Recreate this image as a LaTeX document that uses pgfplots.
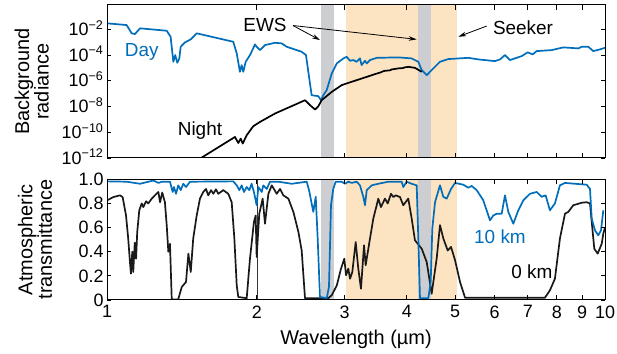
\documentclass[border=0pt]{standalone}
\usepackage{fontspec}
\setmainfont{Liberation Sans}
\usepackage{pgfplots}
\pgfplotsset{compat=1.18}
\usetikzlibrary{arrows.meta}
\definecolor{dayblue}{RGB}{0,110,186}
\definecolor{seeker}{RGB}{252,227,193}
\definecolor{ews}{RGB}{205,206,209}
\begin{document}
\begin{tikzpicture}
\path[use as bounding box] (0bp,0bp) rectangle (617bp,354bp);
% ---------------- top panel ----------------
\begin{axis}[
  scale only axis, width=498bp, height=153bp,
  at={(107bp,196bp)}, anchor=south west,
  xmode=log, ymode=log, xmin=1, xmax=10, ymin=1e-12, ymax=0.78,
  axis line style={line width=1bp},
  tick style={line width=0.8bp, black},
  major tick length=4.5bp, tick align=inside,
  xtick={1,2,3,4,5,6,7,8,9,10}, minor tick num=0,
  tick label style={font=\fontsize{18}{20}\selectfont},
  axis on top,
  ytick={1e-12,1e-10,1e-8,1e-6,1e-4,1e-2},
  yticklabels={10\smash{\textsuperscript{−12}},10\smash{\textsuperscript{−10}},10\smash{\textsuperscript{−8}},10\smash{\textsuperscript{−6}},10\smash{\textsuperscript{−4}},10\smash{\textsuperscript{−2}}},
  xticklabels={},
  ylabel={Background\\radiance},
  ylabel style={align=center, font=\fontsize{20}{18.5}\selectfont, at={(axis description cs:-0.1512,0.5)}, anchor=center},
]
\addplot[draw=none, fill=seeker, forget plot] coordinates {(3.02,1e-13) (3.02,10) (5.05,10) (5.05,1e-13)} -- cycle;
\addplot[draw=none, fill=ews, forget plot] coordinates {(2.69,1e-13) (2.69,10) (2.856,10) (2.856,1e-13)} -- cycle;
\addplot[draw=none, fill=ews, forget plot] coordinates {(4.21,1e-13) (4.21,10) (4.47,10) (4.47,1e-13)} -- cycle;
% Day
\addplot[line width=1.7bp, line join=round, mark=none, dayblue] coordinates {
(1.00,2.93e-2) (1.095,2.16e-2) (1.121,4.88e-3) (1.138,4.31e-3) (1.165,1.20e-2)
(1.318,7.78e-3) (1.342,2.65e-3) (1.359,3.0e-5) (1.371,1.0e-4) (1.384,2.5e-5)
(1.397,5.5e-5) (1.406,4.4e-4) (1.434,9.7e-4) (1.473,1.66e-3) (1.514,4.9e-3)
(1.793,1.08e-3) (1.822,1.35e-4) (1.849,5.0e-6) (1.864,1.66e-5) (1.878,5.0e-6)
(1.899,3.0e-5) (1.937,1.0e-4) (1.983,6.8e-4) (1.998,4.4e-4) (2.029,2.44e-4)
(2.076,6.0e-4) (2.175,9.0e-4) (2.243,8.1e-4) (2.296,4.4e-4) (2.460,1.8e-4)
(2.509,1.0e-4) (2.576,7.6e-8) (2.657,6.4e-8) (2.690,3.1e-8) (2.719,7.6e-8)
(2.762,1.9e-7) (2.827,3.7e-6) (2.893,2.25e-5) (2.983,5.5e-5) (3.030,7.3e-5)
(3.076,3.6e-5) (3.123,4.1e-5) (3.172,3.0e-5) (3.221,5.5e-5) (3.246,1.66e-5)
(3.297,3.6e-5) (3.323,2.25e-5) (3.374,4.1e-5) (3.480,6.1e-5) (3.846,6.6e-5)
(4.091,5.5e-5) (4.218,3.0e-5) (4.285,6.8e-6) (4.385,2.76e-6) (4.487,6.8e-6)
(4.663,3.0e-5) (4.845,4.9e-5) (5.316,6.1e-5) (5.568,4.6e-5) (6.013,3.4e-5)
(6.154,4.6e-5) (6.298,1.0e-4) (6.445,4.1e-5) (6.803,8.3e-5) (6.994,1.62e-4)
(7.157,1.13e-4) (7.292,2.04e-4) (7.816,2.44e-4) (8.247,3.96e-4) (8.840,3.3e-4)
(8.981,4.4e-4) (9.258,4.4e-4) (9.474,2.04e-4) (9.772,2.77e-4) (10.0,3.7e-4)
};
% Night
\addplot[line width=1.7bp, line join=round, mark=none, black] coordinates {
(1.537,8.9e-13) (1.807,4.3e-11) (1.835,1.47e-11) (1.856,3.2e-11) (1.873,1.32e-11)
(1.908,5.9e-11) (1.967,2.94e-10) (2.029,6.4e-10) (2.175,2.87e-9) (2.498,3.1e-8)
(2.557,1.27e-8) (2.617,5.9e-9) (2.657,1.06e-8) (2.698,3.1e-8) (2.827,1.38e-7)
(2.960,4.6e-7) (3.052,6.9e-7) (3.172,1.12e-6) (3.297,1.83e-6) (3.453,3.3e-6)
(3.55,4.6e-6) (3.58,5.4e-6) (3.616,6.0e-6) (3.70,6.5e-6) (3.73,7.6e-6)
(3.846,9.2e-6) (3.93,9.8e-6) (3.96,1.1e-5) (4.027,1.22e-5) (4.153,1.02e-5) (4.285,5.0e-6)
};
\draw[-{Stealth[length=8bp,width=4.5bp]}, line width=0.8bp] (axis cs:2.363,1.98e-2) -- (axis cs:2.677,1.47e-3);
\draw[-{Stealth[length=8bp,width=4.5bp]}, line width=0.8bp] (axis cs:2.363,1.98e-2) -- (axis cs:4.187,1.66e-3);
\draw[-{Stealth[length=8bp,width=4.5bp]}, line width=0.8bp] (axis cs:5.788,1.81e-2) -- (axis cs:5.075,2.65e-3);
\node[font=\fontsize{19}{21}\selectfont, inner sep=0pt] at (axis cs:2.076,2.16e-2) {EWS};
\node[font=\fontsize{19}{21}\selectfont, inner sep=0pt] at (axis cs:6.845,1.38e-2) {Seeker};
\node[font=\fontsize{19}{21}\selectfont, inner sep=0pt, text=dayblue] at (axis cs:1.174,1.87e-4) {Day};
\node[font=\fontsize{19}{21}\selectfont, inner sep=0pt] at (axis cs:1.537,1.31e-10) {Night};
\end{axis}
% ---------------- bottom panel ----------------
\begin{axis}[
  scale only axis, width=498bp, height=120.7bp,
  at={(107bp,54bp)}, anchor=south west,
  xmode=log, xmin=1, xmax=10, ymin=0, ymax=1,
  axis line style={line width=1bp},
  tick style={line width=0.8bp, black},
  major tick length=4.5bp, tick align=inside,
  xtick={1,2,3,4,5,6,7,8,9,10}, minor tick num=0,
  tick label style={font=\fontsize{18}{20}\selectfont},
  axis on top,
  ytick={0,0.2,0.4,0.6,0.8,1},
  yticklabels={0,0.2,0.4,0.6,0.8,1.0},
  xticklabels={1,2,3,4,5,6,7,8,9,10},
  xticklabel style={yshift=-2bp},
  ylabel={Atmospheric\\transmittance},
  ylabel style={align=center, font=\fontsize{20}{18.5}\selectfont, at={(axis description cs:-0.1446,0.5)}, anchor=center},
  xlabel={Wavelength (µm)},
  xlabel style={font=\fontsize{20}{22}\selectfont, at={(axis description cs:0.5,-0.323)}, anchor=center},
]
\addplot[draw=none, fill=seeker, forget plot] coordinates {(3.02,-0.1) (3.02,1.1) (5.05,1.1) (5.05,-0.1)} -- cycle;
\addplot[draw=none, fill=ews, forget plot] coordinates {(2.69,-0.1) (2.69,1.1) (2.856,1.1) (2.856,-0.1)} -- cycle;
\addplot[draw=none, fill=ews, forget plot] coordinates {(4.21,-0.1) (4.21,1.1) (4.47,1.1) (4.47,-0.1)} -- cycle;
\addplot[forget plot, line width=0.7bp, black!80] coordinates {(2,0) (2,1)};
% 0 km
\addplot[line width=1.7bp, line join=round, mark=none, black!90] coordinates {
(1.001,0.826) (1.030,0.853) (1.062,0.867) (1.075,0.853) (1.092,0.70) (1.103,0.51)
(1.112,0.315) (1.117,0.218) (1.124,0.40) (1.129,0.232) (1.137,0.475) (1.144,0.342)
(1.150,0.563) (1.161,0.743) (1.174,0.80) (1.183,0.77) (1.198,0.818) (1.210,0.80)
(1.230,0.84) (1.248,0.867) (1.268,0.895) (1.278,0.81) (1.291,0.89) (1.307,0.81)
(1.318,0.62) (1.328,0.40) (1.338,0.466) (1.349,0.005) (1.390,0.005) (1.413,0.108)
(1.441,0.149) (1.457,0.384) (1.473,0.232) (1.490,0.51) (1.514,0.70) (1.537,0.84)
(1.561,0.895) (1.581,0.92) (1.597,0.867) (1.618,0.91) (1.635,0.88) (1.655,0.917)
(1.673,0.88) (1.712,0.91) (1.752,0.88) (1.780,0.81) (1.802,0.51) (1.822,0.12)
(1.835,0.025) (1.908,0.015) (1.937,0.342) (1.973,0.646) (1.989,0.70) (1.998,0.356)
(2.022,0.715) (2.054,0.84) (2.076,0.632) (2.109,0.88) (2.142,0.95) (2.192,0.88)
(2.226,0.92) (2.260,0.867) (2.313,0.84) (2.367,0.73) (2.423,0.563) (2.460,0.41)
(2.498,0.015) (2.782,0.015) (2.827,0.04) (2.893,0.12) (2.951,0.26) (2.996,0.342)
(3.020,0.205) (3.052,0.26) (3.076,0.176) (3.109,0.232) (3.158,0.48) (3.196,0.26)
(3.236,0.094) (3.282,0.453) (3.307,0.288) (3.374,0.51) (3.426,0.674) (3.480,0.785)
(3.506,0.84) (3.549,0.77) (3.616,0.84) (3.662,0.80) (3.718,0.88) (3.758,0.853)
(3.800,0.867) (3.876,0.853) (3.936,0.785) (4.027,0.84) (4.091,0.674) (4.153,0.495)
(4.285,0.425) (4.385,0.315) (4.487,0.052) (4.592,0.342) (4.663,0.62) (4.735,0.51)
(4.833,0.41) (4.907,0.44) (4.999,0.33) (5.116,0.149) (5.236,0.019) (7.577,0.019)
(7.753,0.08) (7.934,0.176) (8.119,0.51) (8.311,0.715) (8.440,0.73) (8.636,0.785)
(8.981,0.806) (9.190,0.81) (9.330,0.80) (9.447,0.563) (9.517,0.425) (9.667,0.384)
(9.849,0.466) (9.922,0.55) (10.0,0.6)
};
% 10 km
\addplot[line width=1.7bp, line join=round, mark=none, dayblue] coordinates {
(1.001,0.983) (1.095,0.98) (1.165,0.963) (1.239,0.99) (1.268,0.97) (1.288,0.98)
(1.338,0.98) (1.355,0.895) (1.363,0.936) (1.376,0.88) (1.390,0.95) (1.406,0.91)
(1.423,0.963) (1.441,0.936) (1.468,0.98) (1.793,0.983) (1.822,0.95) (1.844,0.91)
(1.864,0.95) (1.884,0.895) (1.908,0.936) (1.931,0.91) (1.952,0.963) (1.973,0.895)
(1.998,0.785) (2.013,0.936) (2.045,0.895) (2.060,0.95) (2.093,0.92) (2.125,0.98)
(2.208,0.98) (2.349,0.963) (2.518,0.98) (2.545,0.91) (2.596,0.73) (2.625,0.855)
(2.649,0.51) (2.677,0.025) (2.762,0.015) (2.791,0.11) (2.817,0.785) (2.847,0.92)
(2.879,0.98) (2.960,0.98) (3.006,0.963) (3.052,0.98) (3.100,0.97) (3.172,0.98)
(3.221,0.95) (3.271,0.855) (3.297,0.785) (3.323,0.91) (3.401,0.95) (3.506,0.963)
(3.672,0.98) (3.906,0.98) (3.936,0.936) (3.998,0.98) (4.091,0.963) (4.187,0.95)
(4.218,0.51) (4.251,0.015) (4.418,0.015) (4.467,0.15) (4.500,0.59) (4.557,0.81)
(4.663,0.95) (4.735,0.855) (4.810,0.84) (4.907,0.92) (4.999,0.97) (5.195,0.955)
(5.316,0.93) (5.400,0.945) (5.526,0.91) (5.696,0.826) (5.876,0.66) (5.967,0.70)
(6.061,0.715) (6.202,0.715) (6.298,0.867) (6.395,0.73) (6.545,0.632) (6.698,0.743)
(6.855,0.826) (7.069,0.88) (7.292,0.895) (7.462,0.855) (7.601,0.867) (7.753,0.743)
(7.934,0.80) (8.119,0.95) (8.311,0.97) (8.706,0.963) (9.190,0.955) (9.330,0.92)
(9.404,0.674) (9.548,0.577) (9.694,0.536) (9.817,0.577) (9.922,0.743)
};
\node[font=\fontsize{19}{21}\selectfont, inner sep=0pt, text=dayblue] at (axis cs:6.154,0.522) {10 km};
\node[font=\fontsize{19}{21}\selectfont, inner sep=0pt] at (axis cs:7.135,0.236) {0 km};
\end{axis}
\end{tikzpicture}
\end{document}
